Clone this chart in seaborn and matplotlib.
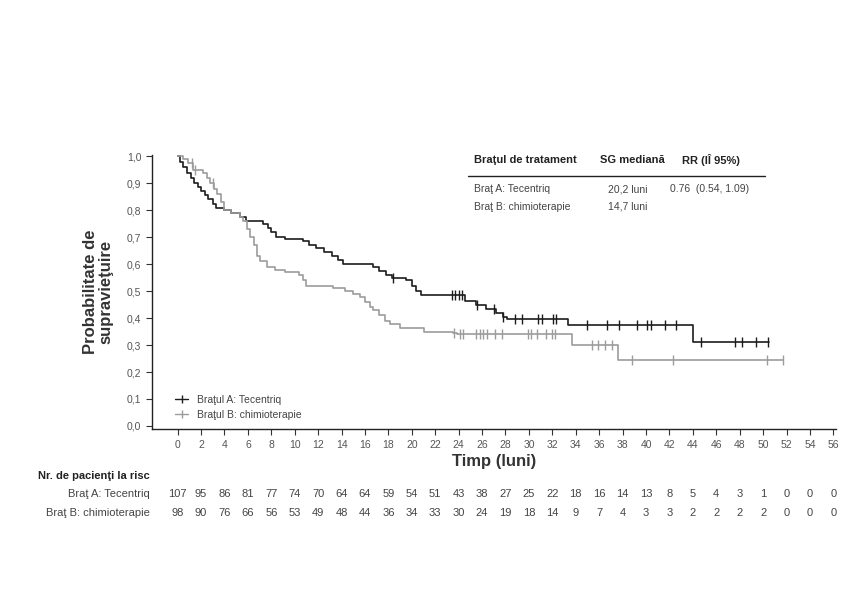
import numpy as np
import pandas as pd
import seaborn as sns
import matplotlib.pyplot as plt
from matplotlib.lines import Line2D
from matplotlib.transforms import blended_transform_factory

# Kaplan-Meier step data (months, survival probability)
time_a = [0, 0.2, 0.5, 0.8, 1.1, 1.4, 1.7, 2.0, 2.3, 2.6, 3.0, 3.3, 4.0, 4.6, 5.3, 5.8,
          7.3, 7.7, 8.0, 8.4, 9.2, 10.7, 11.2, 11.8, 12.5, 13.2, 13.7, 14.1, 16.7, 17.2,
          17.8, 18.3, 19.5, 20.0, 20.4, 20.8, 24.5, 25.5, 26.3, 27.2, 27.8, 28.1, 33.3, 44.0]
surv_a = [1.0, 0.98, 0.96, 0.94, 0.92, 0.90, 0.885, 0.87, 0.855, 0.84, 0.825, 0.81, 0.80, 0.79, 0.775, 0.76,
          0.75, 0.735, 0.72, 0.70, 0.695, 0.685, 0.67, 0.66, 0.645, 0.63, 0.615, 0.60, 0.59, 0.575,
          0.56, 0.55, 0.54, 0.52, 0.50, 0.485, 0.462, 0.45, 0.435, 0.42, 0.405, 0.395, 0.375, 0.31]
end_a = 50.5
cens_a = [18.4, 23.4, 23.7, 24.0, 24.3, 25.6, 27.0, 27.8, 28.8, 29.4, 30.8, 31.1, 32.1, 32.3,
          35.0, 36.7, 37.7, 39.2, 40.1, 40.4, 41.6, 42.6, 44.7, 47.6, 48.2, 49.4, 50.4]

time_b = [0, 0.5, 0.9, 1.3, 2.2, 2.5, 2.8, 3.1, 3.4, 3.7, 4.0, 4.6, 5.3, 5.6, 5.9, 6.2, 6.5,
          6.8, 7.0, 7.6, 8.3, 9.2, 10.4, 10.7, 11.0, 13.3, 14.3, 15.0, 15.6, 16.0, 16.4, 16.7,
          17.2, 17.7, 18.1, 19.0, 21.0, 23.5, 23.9, 33.7, 37.6]
surv_b = [1.0, 0.99, 0.975, 0.95, 0.94, 0.92, 0.90, 0.88, 0.86, 0.83, 0.80, 0.79, 0.775, 0.76, 0.73, 0.70, 0.67,
          0.63, 0.61, 0.59, 0.58, 0.57, 0.56, 0.54, 0.52, 0.51, 0.50, 0.49, 0.48, 0.46, 0.44, 0.43,
          0.41, 0.39, 0.38, 0.365, 0.35, 0.345, 0.34, 0.30, 0.245]
end_b = 51.7
cens_b = [1.2, 1.5, 3.0, 23.6, 24.1, 24.4, 25.5, 25.8, 26.1, 26.4, 27.1, 27.7, 29.9, 30.2, 30.7,
          31.5, 32.0, 32.2, 35.4, 35.9, 36.5, 37.1, 38.8, 42.3, 50.3, 51.7]

# numbers at risk every 2 months
risk_times = list(range(0, 57, 2))
risk_a = [107, 95, 86, 81, 77, 74, 70, 64, 64, 59, 54, 51, 43, 38, 27, 25, 22, 18, 16, 14,
          13, 8, 5, 4, 3, 1, 0, 0, 0]
risk_b = [98, 90, 76, 66, 56, 53, 49, 48, 44, 36, 34, 33, 30, 24, 19, 18, 14, 9, 7, 4,
          3, 3, 2, 2, 2, 2, 0, 0, 0]

label_a = "Braţul A: Tecentriq"
label_b = "Braţul B: chimioterapie"
col_a = "#1c1c1c"
col_b = "#9c9c9c"

sns.set_style("ticks")
plt.rcParams["font.family"] = ["Liberation Sans", "DejaVu Sans"]

fig = plt.figure(figsize=(8.58, 6.14), dpi=100)
ax = fig.add_axes([0.177, 0.301, 0.797, 0.447])


def step_at(times, surv, t):
    i = np.searchsorted(times, t, side="right") - 1
    return surv[i]


for times, surv, end, cens, col in [(time_a, surv_a, end_a, cens_a, col_a),
                                    (time_b, surv_b, end_b, cens_b, col_b)]:
    df = pd.DataFrame({"t": times + [end], "s": surv + [surv[-1]]})
    sns.lineplot(data=df, x="t", y="s", drawstyle="steps-post", estimator=None,
                 color=col, linewidth=1.2, ax=ax)
    cdf = pd.DataFrame({"t": cens, "s": [step_at(times, surv, c) for c in cens]})
    sns.scatterplot(data=cdf, x="t", y="s", marker="|", s=45, color=col,
                    linewidth=1.0, ax=ax, zorder=3)

ax.set_xlim(-2.2, 56.2)
ax.set_ylim(-0.012, 1.006)
ax.set_xticks(risk_times)
ax.set_yticks(np.arange(0, 1.01, 0.1))
ax.set_yticklabels([f"{v:.1f}".replace(".", ",") for v in np.arange(0, 1.01, 0.1)])
ax.tick_params(labelsize=7.5, length=4, width=0.8, colors="#333333", labelcolor="#555555")
for side in ["top", "right"]:
    ax.spines[side].set_visible(False)
for side in ["left", "bottom"]:
    ax.spines[side].set_color("#222222")
    ax.spines[side].set_linewidth(1.0)

ax.set_xlabel("Timp (luni)", fontsize=12, fontweight="bold", color="#333333", labelpad=3)
ax.set_ylabel("Probabilitate de\nsupravieţuire", fontsize=12, fontweight="bold",
              color="#333333", labelpad=10, linespacing=1.0)

handles = [Line2D([], [], color=col_a, marker="|", markersize=6, linewidth=1.0),
           Line2D([], [], color=col_b, marker="|", markersize=6, linewidth=1.0)]
ax.legend(handles, [label_a, label_b], loc="lower left", bbox_to_anchor=(0.02, 0.0),
          frameon=False, fontsize=7.5, handlelength=1.3, labelspacing=0.5,
          labelcolor="#444444")


def ftext(x, y, s, **kw):
    fig.text(x / 858, 1 - y / 614, s, va="center", **kw)


# summary table in the upper right
ftext(474, 160, "Braţul de tratament", fontsize=8, fontweight="bold", color="#222222")
ftext(600, 160, "SG mediană", fontsize=8, fontweight="bold", color="#222222")
ftext(682, 160, "RR (IÎ 95%)", fontsize=8, fontweight="bold", color="#222222")
fig.add_artist(Line2D([468 / 858, 765 / 858], [1 - 176 / 614, 1 - 176 / 614],
                      color="#222222", linewidth=1.0))
ftext(474, 189, "Braţ A: Tecentriq", fontsize=7.5, color="#444444")
ftext(608, 189, "20,2 luni", fontsize=7.5, color="#444444")
ftext(670, 189, "0.76  (0.54, 1.09)", fontsize=7.5, color="#444444")
ftext(474, 207, "Braţ B: chimioterapie", fontsize=7.5, color="#444444")
ftext(608, 207, "14,7 luni", fontsize=7.5, color="#444444")

# numbers at risk
ftext(38, 476, "Nr. de pacienţi la risc", fontsize=8, fontweight="bold", color="#222222")
fig.text(150 / 858, 1 - 494 / 614, "Braţ A: Tecentriq", fontsize=8, color="#444444",
         ha="right", va="center")
fig.text(150 / 858, 1 - 513 / 614, "Braţ B: chimioterapie", fontsize=8, color="#444444",
         ha="right", va="center")
trans = blended_transform_factory(ax.transData, fig.transFigure)
for t, na, nb in zip(risk_times, risk_a, risk_b):
    ax.text(t, 1 - 494 / 614, str(na), transform=trans, ha="center", va="center",
            fontsize=8, color="#444444")
    ax.text(t, 1 - 513 / 614, str(nb), transform=trans, ha="center", va="center",
            fontsize=8, color="#444444")

plt.savefig("out.png", dpi=100)
